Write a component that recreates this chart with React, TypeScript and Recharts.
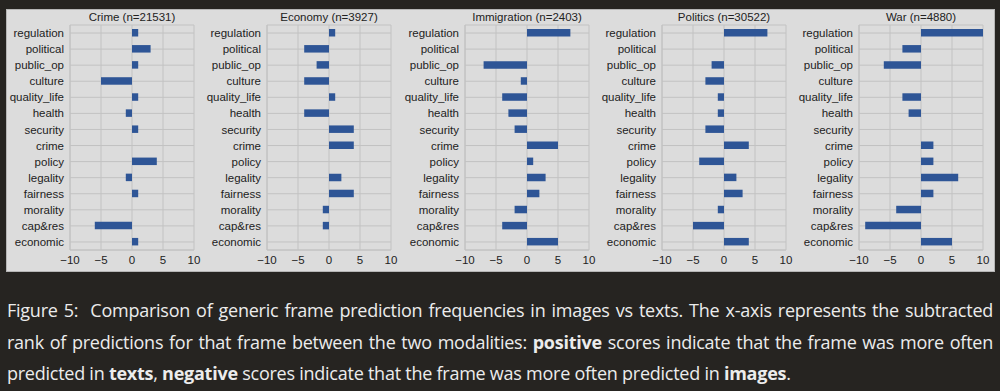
import { Bar, BarChart, CartesianGrid, XAxis, YAxis } from "recharts";

const frames = [
  "regulation",
  "political",
  "public_op",
  "culture",
  "quality_life",
  "health",
  "security",
  "crime",
  "policy",
  "legality",
  "fairness",
  "morality",
  "cap&res",
  "economic",
];

const crimeScores = [1, 3, 1, -5, 1, -1, 1, 0, 4, -1, 1, 0, -6, 1];
const economyScores = [1, -4, -2, -4, 1, -4, 4, 4, 0, 2, 4, -1, -1, 0];
const immigrationScores = [7, 0, -7, -1, -4, -3, -2, 5, 1, 3, 2, -2, -4, 5];
const politicsScores = [7, 0, -2, -3, -1, -1, -3, 4, -4, 2, 3, -1, -5, 4];
const warScores = [10, -3, -6, 0, -3, -2, 0, 2, 2, 6, 2, -4, -9, 5];

const panelTitles = [
  "Crime (n=21531)",
  "Economy (n=3927)",
  "Immigration (n=2403)",
  "Politics (n=30522)",
  "War (n=4880)",
];
const panelScores = [crimeScores, economyScores, immigrationScores, politicsScores, warScores];
const xTicks = [-10, -5, 0, 5, 10];

const plotLefts = [70, 267, 465, 662, 859];
const Y_W = 64;
const PLOT_W = 124;
const RIGHT = 12;
const GRID = "#c2c2c2";
const BAR = "#2e5596";
const INK = "#222";
const FONT = "'Liberation Sans', Arial, sans-serif";
const tickFont = { fontSize: 11.5, fill: INK, fontFamily: FONT };

const fmt = (v: number) => (v < 0 ? `\u2212${-v}` : `${v}`);

function Panel({ title, scores, left }: { title: string; scores: number[]; left: number }) {
  const data = frames.map((frame, i) => ({ frame, value: scores[i] }));
  return (
    <div style={{ position: "absolute", left: left - Y_W, top: 0, width: Y_W + PLOT_W + RIGHT, height: 270 }}>
      <BarChart
        width={Y_W + PLOT_W + RIGHT}
        height={270}
        data={data}
        layout="vertical"
        margin={{ top: 25, right: RIGHT, left: 0, bottom: 0 }}
      >
        <CartesianGrid stroke={GRID} />
        <XAxis
          type="number"
          domain={[-10, 10]}
          ticks={xTicks}
          tickFormatter={fmt}
          tick={tickFont}
          tickLine={false}
          tickSize={0}
          tickMargin={6}
          axisLine={{ stroke: GRID }}
          height={20}
          interval={0}
        />
        <XAxis
          xAxisId="top"
          orientation="top"
          type="number"
          domain={[-10, 10]}
          height={0}
          tick={false}
          tickLine={false}
          axisLine={{ stroke: GRID }}
        />
        <YAxis
          type="category"
          dataKey="frame"
          width={Y_W}
          tick={tickFont}
          tickLine={false}
          tickSize={0}
          tickMargin={6}
          axisLine={{ stroke: GRID }}
          interval={0}
        />
        <Bar dataKey="value" fill={BAR} barSize={7.5} isAnimationActive={false} />
      </BarChart>
      <div
        style={{
          position: "absolute",
          left: Y_W - 30,
          top: 10,
          width: PLOT_W + 60,
          textAlign: "center",
          fontFamily: FONT,
          fontSize: "11.5px",
          lineHeight: "14px",
          color: INK,
          whiteSpace: "nowrap",
          zIndex: 2,
        }}
      >
        {title}
      </div>
    </div>
  );
}

const captionLine: React.CSSProperties = {
  textAlign: "justify",
  textAlignLast: "justify",
  whiteSpace: "nowrap",
};

export default function App() {
  return (
    <div
      style={{
        position: "absolute",
        left: 0,
        top: 0,
        width: 1000,
        height: 391,
        background: "#262421",
        overflow: "hidden",
      }}
    >
      <div
        style={{
          position: "absolute",
          left: 6,
          top: 9,
          width: 987,
          height: 261,
          background: "#dcdcdc",
          border: "1px solid #b5b5b5",
        }}
      />
      {panelTitles.map((t, i) => (
        <Panel key={t} title={t} scores={panelScores[i]} left={plotLefts[i]} />
      ))}
      <div
        style={{
          position: "absolute",
          left: 7,
          top: 295,
          width: 986,
          fontFamily: "'Open Sans', 'Noto Sans', sans-serif",
          fontSize: 18,
          letterSpacing: "-0.25px",
          lineHeight: "31.5px",
          color: "#ececec",
        }}
      >
        <div style={captionLine}>
          Figure 5:&nbsp; Comparison of generic frame prediction frequencies in images vs texts. The x-axis represents the subtracted
        </div>
        <div style={captionLine}>
          rank of predictions for that frame between the two modalities: <b>positive</b> scores indicate that the frame was more often
        </div>
        <div style={{ whiteSpace: "nowrap" }}>
          predicted in <b>texts</b>, <b>negative</b> scores indicate that the frame was more often predicted in <b>images</b>.
        </div>
      </div>
    </div>
  );
}
